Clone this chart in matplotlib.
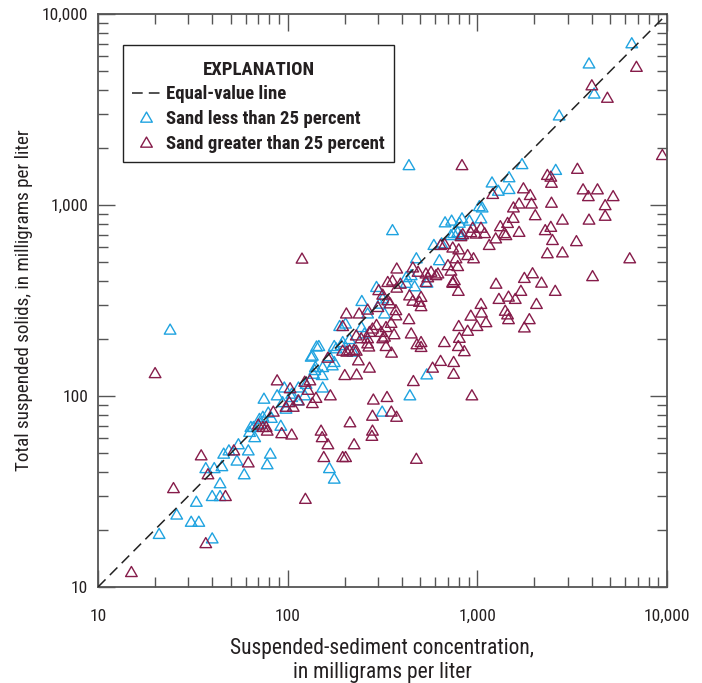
import matplotlib
matplotlib.use("Agg")
import matplotlib.pyplot as plt
from matplotlib import font_manager
from matplotlib.offsetbox import DrawingArea
from matplotlib.path import Path
from matplotlib.ticker import FuncFormatter, LogLocator, NullFormatter
from matplotlib.lines import Line2D

# prefer a condensed face if one is around, else Liberation Sans
installed = {f.name for f in font_manager.fontManager.ttflist}
narrow = [f for f in ["Roboto Condensed", "Liberation Sans Narrow", "Open Sans Condensed"]
          if f in installed]
plt.rcParams["font.family"] = narrow + ["Liberation Sans", "DejaVu Sans"]

# Sand less than 25 percent: (SSC, TSS) in mg/L
sand_low_ssc = [
    24, 21, 26, 31, 34, 33, 40, 40, 44, 44, 37, 41, 45, 46, 49, 55, 62, 54, 59, 78,
    81, 63, 67, 64, 72, 74, 79, 92, 75, 88, 96, 105, 114, 113, 123, 133, 142, 152, 137, 153,
    176, 166, 176, 441, 315, 541,
    436, 1195, 1470, 1290, 1470, 1720, 2590, 1025, 1060, 676, 732, 804, 830, 908, 1045,
    726, 820, 590, 648, 357, 477, 631, 543, 422, 294, 246, 146, 135, 140,
    6520, 3880, 4130, 2700,
    750, 788, 448, 422, 467, 317, 305, 324, 264, 254, 245, 195, 176,
    188, 202, 212, 192, 180, 221, 166, 153, 139, 172, 125, 105, 94, 98, 82, 71, 66,
]
sand_low_tss = [
    223, 19, 24, 22, 22, 28, 18, 30, 30, 35, 42, 42, 43, 50, 52, 56, 52, 46, 39, 44,
    50, 65, 61, 69, 72, 78, 82, 70, 97, 101, 111, 99, 111, 95, 101, 161, 182, 129, 131, 111,
    151, 42, 37, 101, 83, 130,
    1620, 1315, 1400, 1190, 1215, 1640, 1530, 988, 973, 813, 830, 809, 853, 830, 853,
    697, 697, 619, 631, 740, 527, 515, 393, 420, 373, 315, 183, 163, 142,
    7040, 5520, 3840, 2950,
    714, 722, 430, 392, 376, 325, 305, 271, 271, 213, 230, 192, 183,
    233, 240, 199, 185, 178, 171, 162, 142, 137, 145, 116, 103, 93, 86, 77, 76, 69,
]

# Sand greater than 25 percent
sand_high_ssc = [
    20, 15, 25, 37, 35, 38, 47, 52, 62, 70, 78, 93, 105, 88, 103, 123, 102, 107, 135, 141,
    168, 114, 128, 124, 150, 152, 163, 155, 195,
    283, 334, 460, 280, 352, 375, 213, 280, 278, 224, 202, 477,
    357, 742, 794, 1255, 1770, 1955, 1300, 1460, 1585, 1697, 2050, 1045, 1052, 924, 1111, 996,
    1403, 1443, 1460, 1880, 1770, 798, 889, 804, 794, 854, 670, 640, 750, 581, 750, 936,
    436, 448, 505, 505, 480, 353, 330, 364, 317,
    830, 9450, 3370, 2340, 2440, 2460, 3610, 3850, 4300, 5200, 4720, 4720, 2460, 2020, 2810,
    3880, 2280, 2440, 2490, 3330, 2340, 2810, 6360, 4050, 1750, 1900, 1930, 1660, 1550, 1545,
    1660, 1155, 1250, 1415, 2180, 2575,
    640, 673, 742, 798, 889, 955, 772, 788, 726, 376, 457, 536, 605, 757, 742,
    376, 317, 337, 299, 347, 372, 204, 238, 195, 244, 264, 224, 268,
    6900, 4015, 4850, 119,
    924, 985, 820, 393, 487, 570, 620, 548, 536, 505, 495, 439, 457, 505, 372, 351,
    330, 294, 270, 280, 311, 264, 230, 324, 264,
    302, 337, 205, 212, 195, 230, 236, 270, 231, 200, 163, 131, 84, 74, 77, 98,
    1205, 1443, 1322, 1387, 945, 1045, 1092, 838, 700,
]
sand_high_tss = [
    132, 12, 33, 17, 49, 39, 30, 52, 45, 71, 66, 64, 63, 121, 110, 119, 93, 88, 92, 98,
    101, 95, 108, 29, 66, 61, 56, 48, 48,
    96, 99, 120, 79, 83, 78, 73, 66, 62, 56, 48, 47,
    403, 396, 356, 388, 416, 440, 323, 332, 323, 356, 304, 304, 274, 264, 244, 233,
    280, 268, 253, 253, 229, 233, 220, 202, 183, 172, 192, 153, 151, 141, 131, 101,
    253, 213, 192, 181, 187, 169, 183, 211, 201,
    1620, 1830, 1550, 1440, 1410, 1310, 1210, 1115, 1210, 1115, 1000, 880, 1030, 886, 840,
    840, 740, 770, 657, 648, 560, 566, 527, 425, 1225, 1130, 1020, 1020, 973, 858,
    725, 619, 670, 697, 393, 356,
    619, 626, 600, 587, 548, 527, 527, 480, 454, 466, 472, 439, 430, 405, 392,
    370, 340, 318, 293, 306, 282, 271, 271, 233, 201, 189, 175, 182,
    5300, 4240, 3650, 525,
    722, 710, 688, 388, 448, 448, 439, 419, 396, 331, 312, 337, 316, 296, 265, 242,
    230, 236, 217, 226, 217, 201, 208, 205, 284,
    359, 396, 171, 174, 173, 173, 154, 141, 130, 129, 159, 121, 83, 69, 69, 88,
    1145, 807, 776, 714, 762, 762, 714, 705, 485,
]

equal_line = [10, 10000]
decade_ticks = [10, 100, 1000, 10000]

BLUE = "#1fa3e0"
MAROON = "#861c4a"
AXIS = "#555555"
INK = "#231f20"

# flatter, near-equilateral open triangle (matplotlib's "^" is as tall as it is wide)
TRI = Path([(-1, -0.8), (1, -0.8), (0, 0.93), (-1, -0.8)],
           [Path.MOVETO, Path.LINETO, Path.LINETO, Path.CLOSEPOLY])

fig = plt.figure(figsize=(7.02, 6.83), dpi=100)
ax = fig.add_axes([98 / 702, 1 - 587 / 683, 569 / 702, 573 / 683])

ax.scatter(sand_low_ssc, sand_low_tss, marker=TRI, s=70, facecolors="none",
           edgecolors=BLUE, linewidths=1.0, zorder=2)
ax.scatter(sand_high_ssc, sand_high_tss, marker=TRI, s=70, facecolors="none",
           edgecolors=MAROON, linewidths=1.0, zorder=2)
ax.plot(equal_line, equal_line, color="#222222", lw=1.1, dashes=(7, 4), zorder=3)

ax.set_xscale("log")
ax.set_yscale("log")
ax.set_xlim(10, 10000)
ax.set_ylim(10, 10000)

fmt = FuncFormatter(lambda v, p: f"{int(round(v)):,}")
for axis in (ax.xaxis, ax.yaxis):
    axis.set_minor_locator(LogLocator(base=10, subs=range(2, 10), numticks=10))
    axis.set_major_formatter(fmt)
    axis.set_minor_formatter(NullFormatter())
ax.set_xticks(decade_ticks)
ax.set_yticks(decade_ticks)

ax.tick_params(which="both", direction="in", top=True, right=True,
               color=AXIS, width=1.0, labelcolor=INK)
ax.tick_params(which="major", length=12)
ax.tick_params(which="minor", length=7)
ax.tick_params(axis="x", which="major", pad=16, labelsize=12.5)
ax.tick_params(axis="y", which="major", pad=7, labelsize=12.5)
for sp in ax.spines.values():
    sp.set_color(AXIS)
    sp.set_linewidth(1.3)

ax.set_xlabel("Suspended-sediment concentration,\nin milligrams per liter",
              fontsize=15.5, labelpad=10, linespacing=1.2, color=INK)
ax.set_ylabel("Total suspended solids, in milligrams per liter",
              fontsize=13.8, labelpad=6, color=INK)

handles = [
    Line2D([], [], color="#222222", lw=1.1, dashes=(7, 4)),
    Line2D([], [], marker=TRI, ls="none", markerfacecolor="none",
           markeredgecolor=BLUE, markersize=8.4, markeredgewidth=1.0),
    Line2D([], [], marker=TRI, ls="none", markerfacecolor="none",
           markeredgecolor=MAROON, markersize=8.4, markeredgewidth=1.0),
]
labels = ["Equal-value line", "Sand less than 25 percent", "Sand greater than 25 percent"]
size = 13.5 if narrow else 11
leg = ax.legend(handles, labels, title="EXPLANATION", loc="upper left",
                bbox_to_anchor=(0.044, 0.946), borderaxespad=0, frameon=True,
                fancybox=False, edgecolor="#222222", framealpha=1, borderpad=0.5,
                handlelength=1.5, handletextpad=0.3, labelspacing=0.35,
                prop={"weight": "bold", "size": size},
                title_fontproperties={"weight": "bold", "size": size})
leg.get_frame().set_linewidth(1.0)
leg._legend_box.align = "center"
# a little extra room above the title, as in the original box
leg._legend_box._children.insert(0, DrawingArea(1, 0))
for t in leg.get_texts():
    t.set_color(INK)
leg.get_title().set_color(INK)

fig.savefig("out.png", dpi=100)
